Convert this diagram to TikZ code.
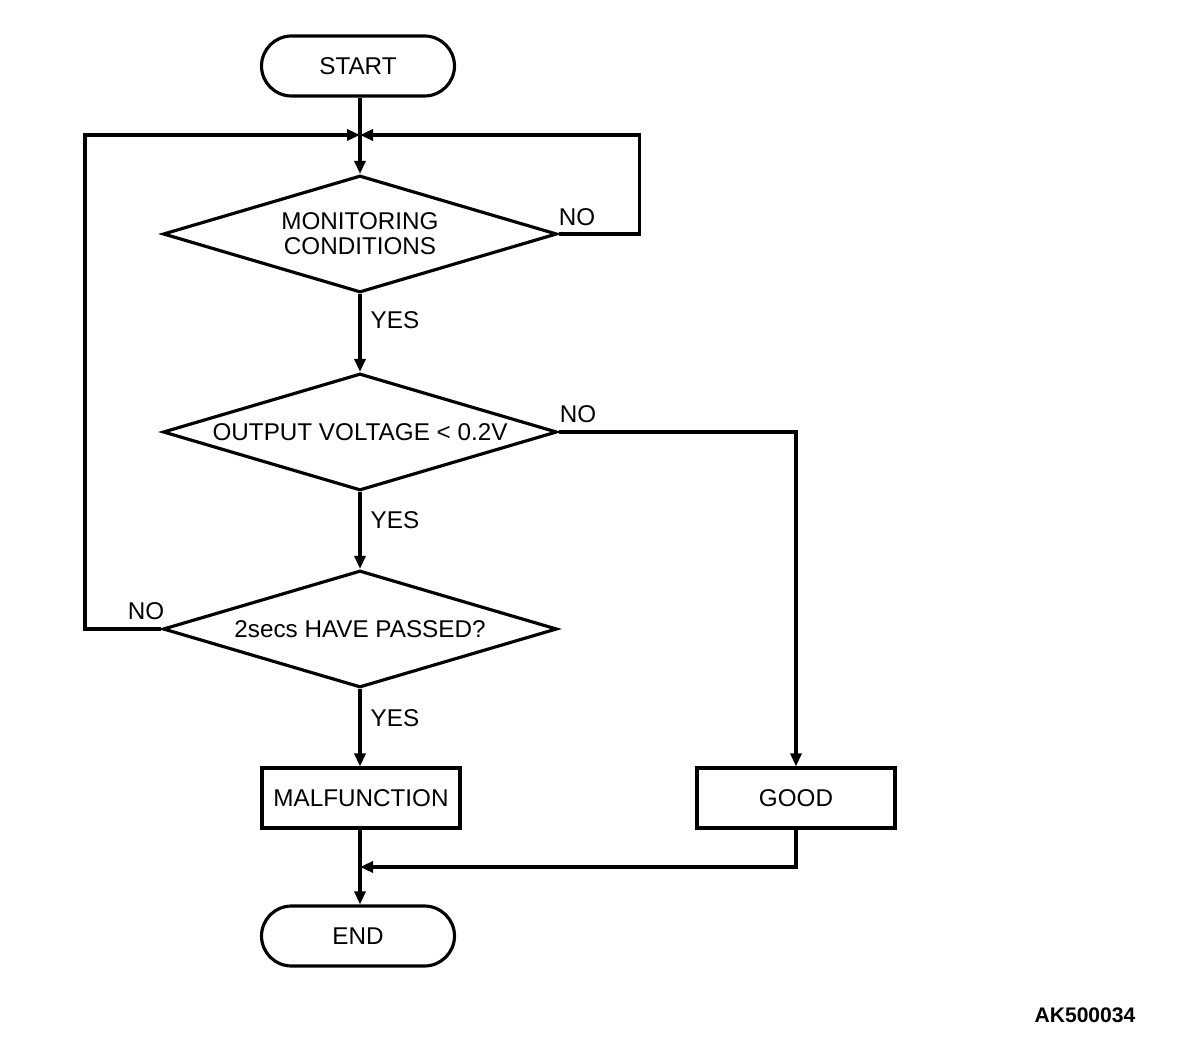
\documentclass[tikz,border=0pt]{standalone}
\usepackage{fontspec}
\setmainfont{Liberation Sans}
\usetikzlibrary{arrows.meta,positioning,shapes.geometric,shapes.misc}

\begin{document}
\begin{tikzpicture}[
  x=0.02cm, y=-0.02cm,
  line width=1.8pt,
  every node/.style={font=\fontsize{13.8}{14.2}\selectfont, inner sep=0pt},
  term/.style={draw, rounded rectangle, minimum width=3.86cm, minimum height=1.2cm},
  test/.style={draw, diamond, aspect=3.4, minimum width=7.88cm,
    minimum height=2.34cm, align=center},
  act/.style={draw, rectangle, minimum width=3.96cm, minimum height=1.2cm},
  lbl/.style={anchor=center},
  arr/.style={-{Triangle[length=0.26cm, width=0.22cm]}}
]
  \useasboundingbox (0,0) rectangle (1184,1054);

  \node[term] (start) at (358,66) {START};
  \node[test] (mon) at (360,234) {MONITORING\\CONDITIONS};
  \node[test] (out) at (360,432) {OUTPUT VOLTAGE < 0.2V};
  \node[test] (pass) at (360,629) {2secs HAVE PASSED?};
  \node[act] (mal) at (361,798) {MALFUNCTION};
  \node[act] (good) at (796,798) {GOOD};
  \node[term] (end) at (358,936) {END};

  \coordinate (jtop) at (360,135);
  \coordinate (jbot) at (360,867);

  % labels
  \node[lbl] (monno) at (577,217) {NO};
  \node[lbl] (monyes) at (395,320) {YES};
  \node[lbl] (outno) at (578,414) {NO};
  \node[lbl] (outyes) at (395,520) {YES};
  \node[lbl] (passno) at (146,611) {NO};
  \node[lbl] (passyes) at (395,718) {YES};
  \node[font=\bfseries\fontsize{12}{14}\selectfont] (code) at (1085,1015) {AK500034};

  \draw[arr] (start.south -| jtop) -- (mon.north);
  \draw[arr] (mon.east) -- ++(81,0) |- (jtop);
  \draw[arr] (pass.west) -- (85,629) |- (jtop);
  \draw[arr] (mon.south) -- (out.north);
  \draw[arr] (out.east) -| (good.north);
  \draw[arr] (out.south) -- (pass.north);
  \draw[arr] (pass.south) -- (mal.north -| pass.south);
  \draw[arr] (good.south) |- (jbot);
  \draw[arr] (mal.south -| jbot) -- (end.north -| jbot);
\end{tikzpicture}
\end{document}
